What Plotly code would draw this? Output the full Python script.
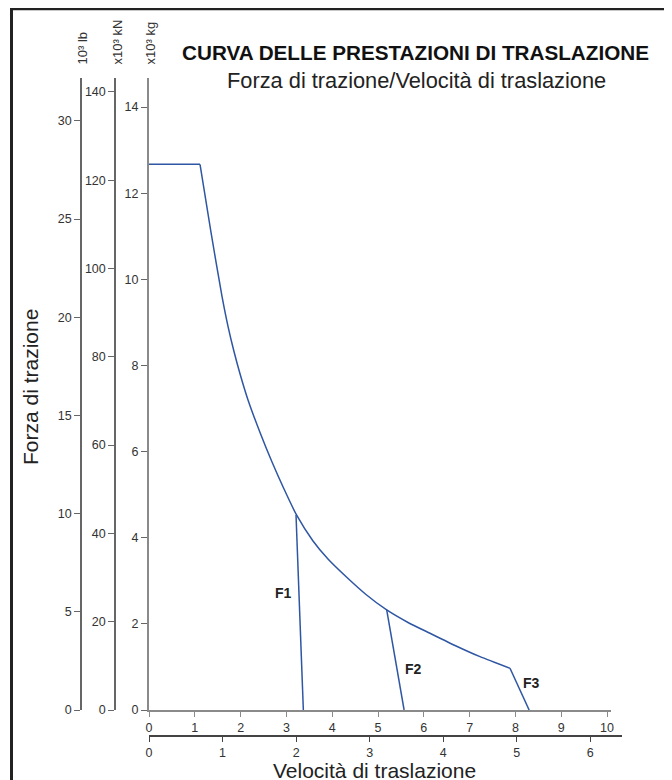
import plotly.graph_objects as go

W, H = 672, 780

# ---- data (km/h vs x10^3 kg) ----
flat_speed = [0.0, 1.114]
flat_force = [12.67, 12.67]
curve_speed = [1.114, 1.354, 1.594, 1.725, 1.856, 1.987, 2.162, 2.424, 2.686, 2.948, 3.221,
               3.581, 3.908, 4.323, 4.738, 5.190, 5.655, 6.135, 6.681, 7.227, 7.882]
curve_force = [12.67, 11.087, 9.605, 8.909, 8.324, 7.808, 7.198, 6.443, 5.758, 5.131, 4.528,
               3.924, 3.506, 3.076, 2.682, 2.322, 2.032, 1.781, 1.498, 1.238, 0.968]
f1_speed = [3.21, 3.37]
f1_force = [4.528, 0.0]
f2_speed = [5.19, 5.57]
f2_force = [2.322, 0.0]
f3_speed = [7.882, 8.30]
f3_force = [0.968, 0.0]
gear_labels = ["F1", "F2", "F3"]
gear_label_speed = [2.93, 5.78, 8.35]
gear_label_force = [2.72, 0.95, 0.63]

kmh_ticks = list(range(0, 11))
mph_ticks = list(range(0, 7))
kg_ticks = list(range(0, 15, 2))
kn_ticks = list(range(0, 141, 20))
lb_ticks = list(range(0, 31, 5))

title = "CURVA DELLE PRESTAZIONI DI TRASLAZIONE"
subtitle = "Forza di trazione/Velocità di traslazione"
y_title = "Forza di trazione"
x_title = "Velocità di traslazione"
unit_labels = ["10³ lb", "x10³ kN", "x10³ kg"]

# ---- helpers: screenshot pixel -> paper (page body has an 8px margin) ----
OFF = 8

def px(x):
    return (x - OFF) / W

def py(y):
    return 1 - (y - OFF) / H

FONT = "Liberation Sans, Arial, Helvetica, sans-serif"
BLUE = "#2f56a3"
TXT = "#333333"

y_top, y_bot = 78, 710
x_left, x_right_kmh, x_right_mph = 149, 610.7, 621.7
kg_per_px = 43.07
kmh_px = 45.8
mph_px = 73.55

fig = go.Figure()
for xs, ys, shape in [(flat_speed, flat_force, "linear"),
                      (curve_speed, curve_force, "spline"),
                      (f1_speed, f1_force, "linear"),
                      (f2_speed, f2_force, "linear"),
                      (f3_speed, f3_force, "linear")]:
    fig.add_trace(go.Scatter(x=xs, y=ys, mode="lines",
                             line=dict(color=BLUE, width=1.5, shape=shape, smoothing=0.6),
                             hoverinfo="skip", showlegend=False))
# invisible helper traces so the extra axes render
for xa, ya in [("x", "y2"), ("x", "y3"), ("x2", "y")]:
    fig.add_trace(go.Scatter(x=[0], y=[0], xaxis=xa, yaxis=ya, mode="markers",
                             marker=dict(opacity=0), hoverinfo="skip", showlegend=False))

ydom = [py(y_bot), py(y_top)]
tickfont = dict(family=FONT, size=12.5, color=TXT)

common_y = dict(domain=ydom, showgrid=False, zeroline=False, showline=True,
                ticks="outside", ticklen=6, tickfont=tickfont, fixedrange=True)

fig.update_layout(
    width=W, height=H,
    margin=dict(l=0, r=0, t=0, b=0, autoexpand=False),
    paper_bgcolor="white", plot_bgcolor="rgba(0,0,0,0)",
    showlegend=False,
    xaxis=dict(domain=[px(x_left), px(x_right_kmh)],
               range=[0, (x_right_kmh - x_left) / kmh_px],
               tickvals=kmh_ticks, showgrid=False, zeroline=False, showline=True,
               linecolor="#8a8a8a", linewidth=2, ticks="outside", ticklen=5,
               tickcolor="#8a8a8a", tickwidth=1.2, tickfont=tickfont, anchor="y"),
    xaxis2=dict(domain=[px(x_left), px(x_right_mph)],
                range=[0, (x_right_mph - x_left) / mph_px],
                tickvals=mph_ticks, showgrid=False, zeroline=False, showline=True,
                linecolor="#444444", linewidth=1.5, ticks="outside", ticklen=5,
                tickcolor="#444444", tickwidth=1.2, tickfont=tickfont,
                anchor="free", position=py(736), side="bottom"),
    yaxis=dict(range=[0, (y_bot - y_top) / kg_per_px], tickvals=kg_ticks,
               linecolor="#8a8a8a", linewidth=2, tickcolor="#666666", tickwidth=1.2,
               anchor="x", **common_y),
    yaxis2=dict(range=[0, (y_bot - y_top) / 4.415], tickvals=kn_ticks,
                linecolor="#666666", linewidth=1.5, tickcolor="#666666", tickwidth=1.2,
                anchor="free", position=px(115), overlaying="y", side="left", **common_y),
    yaxis3=dict(range=[0, (y_bot - y_top) / 19.64], tickvals=lb_ticks,
                linecolor="#666666", linewidth=1.5, tickcolor="#666666", tickwidth=1.2,
                anchor="free", position=px(81), overlaying="y", side="left", **common_y),
)

# frame
fig.add_shape(type="rect", xref="paper", yref="paper",
              x0=px(11.5), x1=px(669), y0=py(820), y1=py(8.7),
              line=dict(color="#222222", width=3), fillcolor="rgba(0,0,0,0)", layer="above")

ann = []
ann.append(dict(text="<b>" + title + "</b>", x=px(415), y=py(52.5), xref="paper", yref="paper",
                showarrow=False, xanchor="center", yanchor="middle",
                font=dict(family=FONT, size=20.7, color="#111111")))
ann.append(dict(text=subtitle, x=px(417), y=py(80), xref="paper", yref="paper",
                showarrow=False, xanchor="center", yanchor="middle",
                font=dict(family=FONT, size=21.8, color="#222222")))
ann.append(dict(text=y_title, x=px(30), y=py(387), xref="paper", yref="paper",
                showarrow=False, xanchor="center", yanchor="middle", textangle=-90,
                font=dict(family=FONT, size=21, color="#222222")))
ann.append(dict(text=x_title, x=px(375), y=py(770), xref="paper", yref="paper",
                showarrow=False, xanchor="center", yanchor="middle",
                font=dict(family=FONT, size=21, color="#222222")))
for lab, xpos in zip(unit_labels, [82, 117, 150]):
    ann.append(dict(text=lab, x=px(xpos), y=py(67), xref="paper", yref="paper",
                    showarrow=False, xanchor="center", yanchor="bottom", textangle=-90,
                    font=dict(family=FONT, size=13, color=TXT)))
for lab, sx, sy in zip(gear_labels, gear_label_speed, gear_label_force):
    ann.append(dict(text="<b>" + lab + "</b>", x=sx, y=sy, xref="x", yref="y",
                    showarrow=False, xanchor="center", yanchor="middle",
                    font=dict(family=FONT, size=14, color="#222222")))
fig.update_layout(annotations=ann)

fig.write_html("out.html")
